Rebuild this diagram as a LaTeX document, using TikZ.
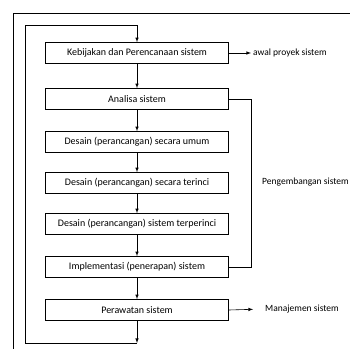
\documentclass[tikz,border=0pt]{standalone}
\usepackage{fontspec}
\setmainfont{Carlito}
\usetikzlibrary{positioning}

\tikzset{
  tahap/.style={draw,semithick,minimum width=183,minimum height=21,inner sep=1pt,font=\fontsize{10}{11}\selectfont},
  ket/.style={inner sep=2pt,anchor=west,font=\fontsize{9.5}{11}\selectfont},
  panah/.style={->,>=latex,semithick}
}

\begin{document}
\begin{tikzpicture}[x=1pt,y=-1pt]
\useasboundingbox (0,0) rectangle (360,349);
\draw[thick] (13,349)--(13,13)--(350,13);
\node[tahap] (k1) at (137,53) {Kebijakan dan Perencanaan sistem};
\node[tahap] (k2) at (137,99) {Analisa sistem};
\node[tahap] (k3) at (137,142) {Desain (perancangan) secara umum};
\node[tahap] (k4) at (137,183) {Desain (perancangan) secara terinci};
\node[tahap] (k5) at (137,224) {Desain (perancangan) sistem terperinci};
\node[tahap] (k6) at (137,267) {Implementasi (penerapan) sistem};
\node[tahap] (k7) at (137,310) {Perawatan sistem};
\foreach \a/\b in {k1/k2,k2/k3,k3/k4,k4/k5,k5/k6,k6/k7}
  \draw[panah] (\a)--(\b);
% putaran balik
\coordinate (bawah) at (137,343);
\coordinate (kiri) at (25,343);
\coordinate (atas) at (25,25);
\draw[panah] (k7)--(bawah);
\draw[panah] (bawah)--(kiri)--(atas)-|(k1.north);
% kurung pengembangan
\coordinate (kurung) at (251,0);
\draw[semithick] (k2.east)--(k2.east-|kurung)--(k6.east-|kurung)--(k6.east);
\node[ket] (pg) at (260,182) {Pengembangan sistem};
\node[ket] (aw) at (251,53) {awal proyek sistem};
\node[ket] (mj) at (263,309) {Manajemen sistem};
\draw[panah] (k1.east)--(aw.west);
\draw[panah,shorten >=10] (k7.east)--(mj.west);
\end{tikzpicture}
\end{document}
